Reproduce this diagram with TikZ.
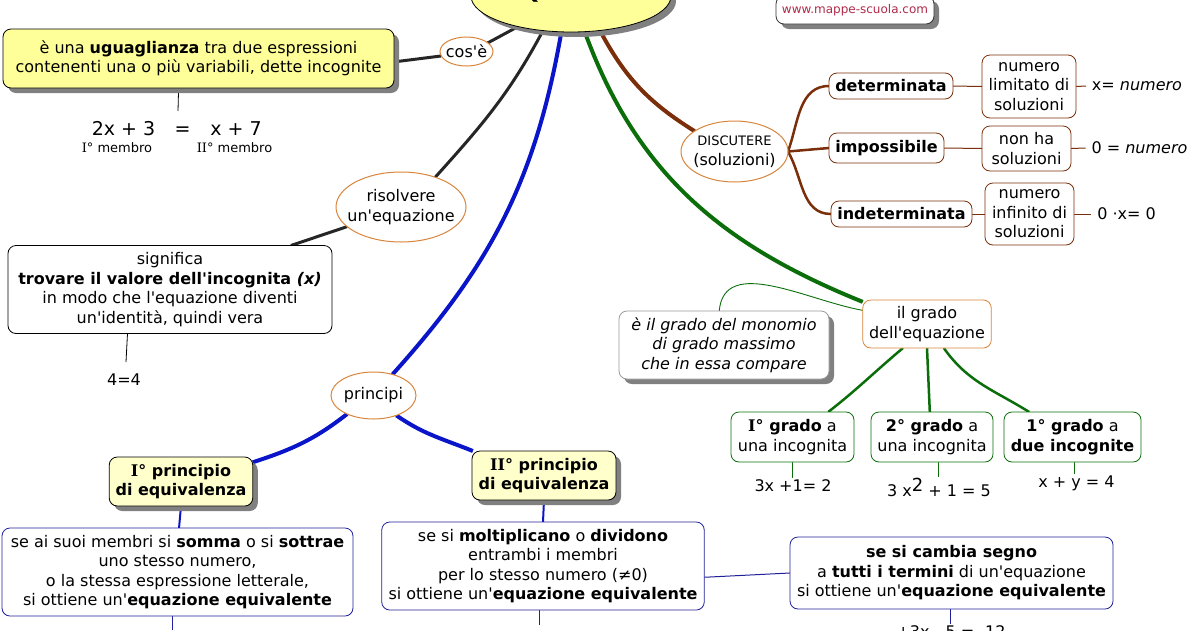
\documentclass[tikz,border=0pt]{standalone}
\usepackage{fontspec}
\usetikzlibrary{
    calc,
    shapes.geometric,
    shadows,
    backgrounds
}
\newfontfamily\mapfont{DejaVu Sans}
\newfontfamily\capfont{DejaVu Serif}
\newcommand{\mapsize}{\mapfont\fontsize{16}{19.5}\selectfont}
\newcommand{\smallsize}{\mapfont\fontsize{13}{14}\selectfont}
\newcommand{\eqsize}{\mapfont\fontsize{19}{19.5}\selectfont}
\definecolor{rootyellow}{HTML}{FFFF99}
\definecolor{paleyellow}{HTML}{FFFFCC}
\definecolor{edgeorange}{HTML}{D9853B}
\definecolor{brownline}{HTML}{7A2E0A}
\definecolor{greenline}{HTML}{0B6E0B}
\definecolor{blueline}{HTML}{0A14C8}
\definecolor{navyedge}{HTML}{20209A}
\definecolor{shadowgray}{HTML}{808080}
\definecolor{webred}{HTML}{B02A4A}
\tikzset{
    every node/.style={font=\mapsize, align=center, inner sep=0pt, outer sep=0pt},
    boxsize/.style 2 args={minimum width=#1pt, minimum height=#2pt},
    shadowed/.style={drop shadow={shadow xshift=5pt, shadow yshift=-5pt, fill=shadowgray, opacity=1}},
    mapbox/.style={draw, rectangle, rounded corners=8pt, fill=white, line width=0.8pt},
    yellowbox/.style={mapbox, fill=rootyellow, shadowed},
    palebox/.style={mapbox, fill=paleyellow, shadowed, font=\mapsize\bfseries},
    brownbox/.style={mapbox, draw=brownline},
    greenbox/.style={mapbox, draw=greenline},
    bluebox/.style={mapbox, draw=navyedge},
    oval/.style={draw=edgeorange, ellipse, fill=white, line width=1pt, inner xsep=-8pt},
    eqtext/.style={inner sep=6pt, fill=none},
    thickblack/.style={line width=3pt, color=black!85},
    thickbrown/.style={line width=4pt, color=brownline},
    midbrown/.style={line width=2.5pt, color=brownline},
    thinbrown/.style={line width=1pt, color=brownline},
    thickgreen/.style={line width=4pt, color=greenline},
    midgreen/.style={line width=2.5pt, color=greenline},
    thingreen/.style={line width=0.9pt, color=greenline},
    thickblue/.style={line width=4pt, color=blueline},
    midblue/.style={line width=2pt, color=blueline},
    thinblue/.style={line width=1pt, color=navyedge}
}
\begin{document}
\begin{tikzpicture}[x=1pt, y=-1pt]
    \useasboundingbox (0, 0) rectangle (1200, 630);

    \node[yellowbox, ellipse, boxsize={200}{72}] (root) at (571, -4) {};
    \node[anchor=base, font=\mapfont\bfseries\fontsize{26}{26}\selectfont] (rootq) at (530, -2) {Q};
    \node[mapbox, shadowed, boxsize={158}{28}, font=\mapfont\fontsize{12}{14}\selectfont, text=webred, draw=black!80] (web) at (855, 10) {www.mappe-scuola.com};

    \node[yellowbox, boxsize={391}{59}] (def) at (198.5, 58.5) {è una \textbf{uguaglianza} tra due espressioni\\contenenti una o più variabili, dette incognite};
    \node[oval, boxsize={53}{29}] (cose) at (466.5, 51.5) {cos'è};
    \node[font=\eqsize, anchor=base] (eqleft) at (123.5, 135.5) {2x + 3};
    \node[font=\eqsize, anchor=base] (eqsign) at (182.5, 135.5) {=};
    \node[font=\eqsize, anchor=base] (eqright) at (236, 135.5) {x + 7};
    \node[font=\smallsize] (memleft) at (117, 148) {{\capfont I}° membro};
    \node[font=\smallsize] (memright) at (234.5, 148) {{\capfont II}° membro};

    \node[oval, boxsize={130}{70}] (solve) at (401, 207) {risolvere\\un'equazione};
    \node[mapbox, boxsize={324}{88}] (mean) at (170, 289.5) {significa\\\textbf{trovare il valore dell'incognita \textit{(x)}}\\in modo che l'equazione diventi\\un'identità, quindi vera};
    \node (four) at (124, 380) {4=4};

    \node[oval, boxsize={85}{47}] (princ) at (373.5, 395.5) {principi};
    \node[palebox, boxsize={143.5}{49}] (pone) at (181, 481.5) {{\capfont I}° principio\\di equivalenza};
    \node[palebox, boxsize={144}{49}] (ptwo) at (544, 475.5) {{\capfont II}° principio\\di equivalenza};
    \node[bluebox, boxsize={351}{88}] (sum) at (177.5, 572) {se ai suoi membri si \textbf{somma} o si \textbf{sottrae}\\uno stesso numero,\\o la stessa espressione letterale,\\si ottiene un'\textbf{equazione equivalente}};
    \node[bluebox, boxsize={322.5}{88}] (mult) at (543, 566) {se si \textbf{moltiplicano} o \textbf{dividono}\\entrambi i membri\\per lo stesso numero (≠0)\\si ottiene un'\textbf{equazione equivalente}};
    \node[bluebox, boxsize={323}{72}] (sign) at (951.5, 573) {\textbf{se si cambia segno}\\a \textbf{tutti i termini} di un'equazione\\si ottiene un'\textbf{equazione equivalente}};
    \node[anchor=base] (signeq) at (951, 637) {+3x - 5 = -12};

    \node[oval, boxsize={107}{61}] (disc) at (734.5, 151.5) {{\smallsize DISCUTERE}\\(soluzioni)};
    \node[brownbox, boxsize={124}{26}, font=\mapsize\bfseries] (det) at (891, 86) {determinata};
    \node[brownbox, boxsize={115}{30}, font=\mapsize\bfseries] (imp) at (886.5, 148) {impossibile};
    \node[brownbox, boxsize={141}{26}, font=\mapsize\bfseries] (ind) at (901.5, 214) {indeterminata};
    \node[brownbox, boxsize={94}{63}] (limit) at (1029, 86.5) {numero\\limitato di\\soluzioni};
    \node[brownbox, boxsize={89}{45}] (none) at (1026.5, 148.5) {non ha\\soluzioni};
    \node[brownbox, boxsize={89}{62}] (infin) at (1029.5, 214) {numero\\infinito di\\soluzioni};
    \node[eqtext] (xnum) at (1137, 86) {x= \textit{numero}};
    \node[eqtext] (zeronum) at (1139.5, 148) {0 = \textit{numero}};
    \node[eqtext] (zerox) at (1126.5, 214) {0 ·x= 0};

    \node[mapbox, boxsize={128.5}{48}, draw=edgeorange] (degree) at (927, 324) {il grado\\dell'equazione};
    \node[mapbox, shadowed, boxsize={210}{68}, draw=black!40, font=\mapsize\itshape] (note) at (724, 345) {è il grado del monomio\\di grado massimo\\che in essa compare};
    \node[greenbox, boxsize={123}{50}] (gone) at (792.5, 437) {\textbf{{\capfont I}° grado} a\\una incognita};
    \node[greenbox, boxsize={122}{50}] (gtwo) at (932, 437) {\textbf{2° grado} a\\una incognita};
    \node[greenbox, boxsize={137}{50}] (gthree) at (1072.5, 437) {\textbf{1° grado} a\\\textbf{due incognite}};
    \node (gonetext) at (793, 486) {3x +1= 2};
    \node (gtwotext) at (939, 487) {3 x\raisebox{5pt}{\fontsize{18}{18}\selectfont 2} + 1 = 5};
    \node (gthreetext) at (1076.5, 483) {x + y = 4};

    \coordinate (deftail) at (178, 111);
    \coordinate (fourtail) at (126, 362);
    \coordinate (sumtail) at (172, 630);
    \coordinate (multtail) at (539, 625);
    \coordinate (signtail) at (950, 624);
    \coordinate (gonetail) at (792, 478);
    \coordinate (gtwotail) at (938, 477);
    \coordinate (gthreetail) at (1074.5, 474);

    \begin{scope}[on background layer]
        \draw[thickblack] (root.-150) -- (cose.22);
        \draw[thickblack] (cose.190) -- (def.-1);
        \draw[line width=0.8pt] (def.-124) -- (deftail);
        \draw[thickblack] (root.-129) to[out=-118, in=48] (solve.41);
        \draw[thickblack] (solve.200) -- (mean.20);
        \draw[line width=0.8pt] (mean.-134) -- (fourtail);

        \draw[thickblue] (root.-105) to[out=-100, in=48] (princ.48);
        \draw[thickblue] (princ.215) to[out=218, in=18] (pone.15);
        \draw[thickblue] (princ.-41) to[out=-35, in=158] (ptwo.161);
        \draw[midblue] (pone.south) -- (sum.88);
        \draw[midblue] (ptwo.south) -- (mult.north);
        \draw[thinblue] (mult.-4) -- (sign.180.4);
        \draw[thinblue] (sum.south -| sumtail) -- (sumtail);
        \draw[thinblue] (mult.south -| multtail) -- (multtail);
        \draw[thinblue] (sign.south -| signtail) -- (signtail);

        \draw[thickbrown] (root.-50) to[out=-62, in=148] (disc.153);
        \draw[midbrown] (disc.east) to[out=70, in=180] (det.west);
        \draw[midbrown] (disc.east) -- (imp.west);
        \draw[midbrown] (disc.east) to[out=-60, in=180] (ind.west);
        \draw[thinbrown] (det.east) -- (limit.west);
        \draw[thinbrown] (imp.east) -- (none.west);
        \draw[thinbrown] (ind.east) -- (infin.west);
        \draw[thinbrown] (limit.east) -- (xnum.west);
        \draw[thinbrown] (none.east) -- (zeronum.west);
        \draw[thinbrown] (infin.east) -- (zerox.west);

        \draw[thickgreen] (root.-69) to[out=-70, in=158] (degree.161);
        \draw[thingreen] (degree.168.5) to[out=170, in=85] (note.98);
        \draw[midgreen] (degree.-135) to[out=-140, in=38] (gone.35);
        \draw[midgreen] (degree.south) -- (gtwo.95);
        \draw[midgreen] (degree.-55) to[out=-55, in=148] (gthree.150);
        \draw[thingreen] (gone.south -| gonetail) -- (gonetail);
        \draw[thingreen] (gtwo.south -| gtwotail) -- (gtwotail);
        \draw[thingreen] (gthree.south -| gthreetail) -- (gthreetail);
    \end{scope}
\end{tikzpicture}
\end{document}
